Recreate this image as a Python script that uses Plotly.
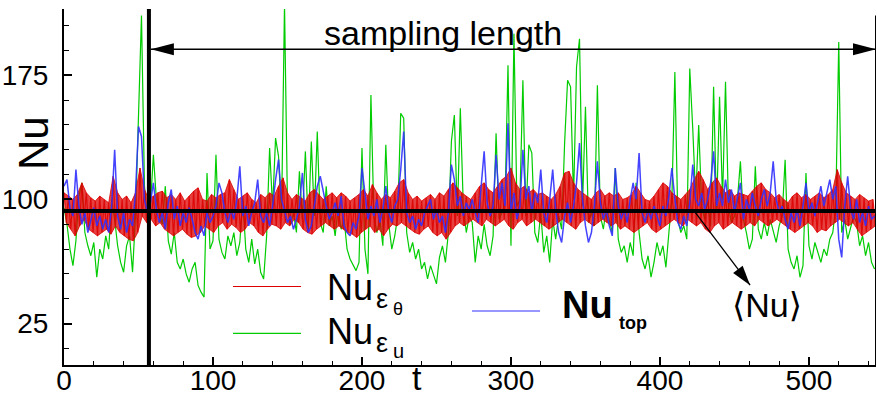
import plotly.graph_objects as go

# ---------------- data ----------------
T_STEP_GB = 2          # sampling step of the green / blue series (time units)
T_STEP_R = 3           # sampling step of the red envelope values

nu_eps_u = [  # green, Nu_eps_u
    95, 85, 70, 60, 75, 102, 110, 80, 72, 66,
    74, 53, 70, 64, 78, 70, 100, 88, 72, 62,
    56, 72, 78, 56, 90, 151, 211, 108, 88, 96,
    127, 100, 92, 85, 108, 75, 67, 80, 62, 58,
    64, 55, 50, 58, 62, 48, 44, 41, 116, 70,
    75, 127, 76, 68, 64, 78, 72, 80, 66, 74,
    100, 70, 62, 76, 61, 70, 56, 52, 78, 131,
    95, 137, 126, 90, 218, 95, 85, 92, 80, 117,
    88, 129, 82, 135, 90, 141, 86, 80, 108, 84,
    90, 78, 95, 82, 88, 70, 64, 60, 57, 62,
    131, 70, 55, 163, 90, 80, 88, 72, 133, 85,
    70, 78, 90, 152, 149, 80, 68, 74, 64, 70,
    58, 62, 52, 60, 55, 49, 65, 72, 62, 80,
    135, 151, 90, 155, 96, 80, 90, 86, 62, 78,
    70, 85, 72, 66, 78, 140, 88, 92, 98, 181,
    72, 200, 96, 100, 172, 90, 133, 128, 80, 74,
    92, 68, 78, 62, 88, 76, 90, 82, 134, 172,
    168, 100, 180, 197, 96, 156, 86, 92, 84, 169,
    90, 82, 95, 88, 80, 119, 76, 68, 72, 62,
    74, 66, 110, 80, 64, 58, 66, 53, 62, 74,
    66, 72, 59, 80, 100, 177, 88, 80, 84, 76,
    179, 143, 100, 145, 96, 88, 100, 84, 168, 92,
    162, 100, 171, 95, 86, 90, 100, 123, 88, 80,
    70, 76, 120, 82, 76, 86, 78, 88, 80, 74,
    84, 90, 124, 70, 62, 58, 66, 53, 60, 116,
    72, 64, 74, 68, 62, 70, 66, 76, 80, 96,
    195, 80, 88, 76, 84, 90, 86, 72, 78, 66,
    74, 62, 58,
]

nu_top = [  # blue, Nu_top
    108, 112, 95, 90, 118, 96, 85, 92, 80, 88,
    95, 84, 90, 82, 88, 80, 96, 130, 90, 82,
    92, 80, 88, 84, 104, 144, 138, 100, 92, 98,
    110, 94, 86, 92, 82, 98, 106, 88, 96, 84,
    92, 86, 95, 88, 80, 76, 84, 78, 92, 86,
    90, 96, 110, 104, 92, 86, 94, 88, 100, 120,
    90, 96, 84, 92, 98, 112, 90, 86, 92, 84,
    96, 112, 124, 100, 92, 86, 90, 82, 88, 96,
    116, 88, 80, 84, 96, 108, 114, 104, 96, 88,
    92, 98, 90, 102, 84, 80, 78, 86, 82, 90,
    119, 104, 88, 96, 90, 100, 86, 94, 108, 92,
    86, 96, 100, 118, 141, 92, 86, 90, 82, 88,
    84, 92, 96, 100, 88, 94, 86, 90, 80, 92,
    121, 112, 96, 102, 90, 98, 94, 100, 92, 86,
    108, 129, 98, 90, 96, 127, 100, 110, 96, 146,
    92, 104, 88, 96, 130, 100, 108, 92, 104, 98,
    118, 92, 86, 100, 118, 94, 80, 74, 90, 98,
    86, 96, 110, 134, 100, 84, 74, 80, 96, 123,
    98, 88, 94, 84, 78, 119, 96, 88, 94, 86,
    100, 110, 100, 128, 92, 86, 94, 88, 96, 90,
    84, 96, 90, 102, 119, 100, 86, 82, 90, 84,
    98, 121, 100, 96, 104, 94, 100, 110, 129, 96,
    104, 96, 112, 98, 106, 92, 100, 110, 88, 100,
    94, 104, 96, 90, 100, 106, 96, 104, 123, 100,
    92, 96, 88, 82, 92, 86, 94, 84, 96, 110,
    92, 98, 90, 100, 108, 96, 104, 112, 100, 108,
    76, 65, 96, 114, 94, 88, 100, 86, 92, 84,
    96, 88, 90,
]

nu_eps_theta_hi = [  # red, upper swing of the dense oscillation
    104, 102, 100, 103, 110, 104, 101, 99, 102, 100,
    98, 114, 104, 100, 102, 98, 104, 119, 106, 100,
    102, 104, 105, 101, 103, 100, 104, 99, 102, 105,
    107,
    100, 99, 103, 101, 103, 104, 112, 106, 100, 102,
    104, 100, 98, 103, 101, 104, 102, 108, 113, 104,
    100, 103, 101, 99, 104, 106, 103, 100, 102, 104,
    101, 104, 102, 99, 101, 103, 106, 102, 109, 104,
    100, 103, 101, 105, 110, 112, 104, 100, 102, 99,
    101, 103, 100, 104, 102, 106, 110, 107, 104, 102,
    100,
    104, 108, 110, 106, 104, 108, 112, 114, 119, 110,
    106, 108, 104, 106, 103, 104, 102, 100, 103, 108,
    116, 117, 110, 106, 104, 102, 100, 104, 106, 102,
    104, 102, 104, 100, 101, 103, 108, 104, 100, 99,
    102, 106, 110, 108, 104, 102, 100, 103, 106, 112,
    117, 112, 106, 110, 113, 108, 104, 106, 102, 104,
    103,
    102, 105, 108, 110, 106, 104, 101, 103, 100, 98,
    102, 104, 101, 103, 100, 102, 104, 101, 103, 106,
    118, 110, 104, 102, 100, 103, 101, 99, 100,
]

nu_eps_theta_lo = [  # red, lower swing of the dense oscillation
    86, 82, 78, 84, 88, 82, 80, 78, 80, 82,
    79, 84, 80, 78, 76, 75, 80, 90, 86, 88,
    84, 86, 82, 80, 78, 80, 82, 79, 77, 78,
    80,
    84, 82, 80, 84, 86, 82, 85, 83, 80, 82,
    86, 84, 80, 78, 82, 85, 84, 82, 86, 84,
    88, 86, 82, 80, 79, 82, 84, 86, 84, 82,
    84, 82, 80, 79, 77, 80, 82, 84, 80, 82,
    78, 82, 85, 84, 86, 84, 82, 80, 79, 82,
    84, 80, 78, 80, 76, 80, 84, 86, 84, 86,
    88,
    86, 84, 88, 86, 84, 86, 88, 84, 82, 86,
    88, 84, 86, 88, 86, 84, 82, 84, 86, 88,
    86, 84, 82, 86, 88, 86, 84, 86, 88, 86,
    84, 86, 82, 84, 82, 80, 82, 84, 86, 82,
    80, 82, 84, 86, 88, 86, 84, 88, 86, 84,
    86, 82, 80, 84, 86, 82, 84, 86, 84, 82,
    84,
    86, 84, 88, 86, 84, 86, 88, 86, 84, 82,
    80, 82, 84, 86, 84, 80, 82, 81, 84, 86,
    88, 86, 84, 86, 82, 78, 80, 82, 84,
]

NU_MEAN = 93            # <Nu> level (horizontal line)
T_SAMPLE_START = 57     # start of sampling length (vertical line)
T_MAX = 545
NU_RANGE = [0, 215]
ARROW_LEVEL = 190.7     # Nu level of the "sampling length" arrow
NU_ARROW_TAIL = (423.8, 92)
NU_ARROW_TIP = (460.5, 48.2)

x_tickvals = [0, 100, 200, 300, 400, 500]
y_tickvals = [25, 100, 175]

# ---------------- build traces ----------------
t_g = [i * T_STEP_GB for i in range(len(nu_eps_u))]
t_b = [i * T_STEP_GB for i in range(len(nu_top))]
t_hi = [i * T_STEP_R for i in range(len(nu_eps_theta_hi))]
t_lo = [i * T_STEP_R + T_STEP_R / 2 for i in range(len(nu_eps_theta_lo))]
x_r, y_r = [], []
for a, h, b, l in zip(t_hi, nu_eps_theta_hi, t_lo, nu_eps_theta_lo):
    x_r += [a, b]
    y_r += [h, l]

RED = "#dd0000"
GREEN = "#00cc00"
BLUE = "#3030ff"
FONT = "Liberation Sans, Arial, DejaVu Sans, sans-serif"

fig = go.Figure()
fig.add_trace(go.Scatter(x=t_g, y=nu_eps_u, mode="lines",
                         line=dict(color=GREEN, width=1.2), showlegend=False))
# red: dense oscillation -> band between its swings plus the zig-zag itself
fig.add_trace(go.Scatter(x=t_hi, y=nu_eps_theta_hi, mode="lines",
                         line=dict(color=RED, width=0.8), opacity=0.85, showlegend=False))
fig.add_trace(go.Scatter(x=t_lo, y=nu_eps_theta_lo, mode="lines", fill="tonexty",
                         fillcolor="rgba(221,0,0,0.75)",
                         line=dict(color=RED, width=0.8), opacity=0.85, showlegend=False))
fig.add_trace(go.Scatter(x=x_r, y=y_r, mode="lines", opacity=0.85,
                         line=dict(color=RED, width=1.2), showlegend=False))
fig.add_trace(go.Scatter(x=t_b, y=nu_top, mode="lines", opacity=0.9,
                         line=dict(color=BLUE, width=1.5), showlegend=False))

# ---------------- layout ----------------
L, R, T, B = 64, 876, 9, 365


def PX(x):
    return (x - L) / (R - L)


def PY(y):
    return (B - y) / (B - T)


shapes = [
    dict(type="line", xref="x", yref="y", x0=0, x1=T_MAX, y0=NU_MEAN, y1=NU_MEAN,
         line=dict(color="black", width=4)),
    dict(type="line", xref="x", yref="y", x0=T_SAMPLE_START, x1=T_SAMPLE_START,
         y0=NU_RANGE[0], y1=NU_RANGE[1], line=dict(color="black", width=4)),
    dict(type="line", xref="x", yref="y", x0=T_MAX, x1=T_MAX, y0=NU_RANGE[0], y1=211,
         line=dict(color="black", width=2)),
    dict(type="line", xref="x", yref="y", x0=T_SAMPLE_START + 1.3, x1=T_MAX,
         y0=ARROW_LEVEL, y1=ARROW_LEVEL, line=dict(color="black", width=1.5)),
    dict(type="path", xref="x", yref="y", xsizemode="pixel", ysizemode="pixel",
         xanchor=T_SAMPLE_START + 1.3, yanchor=ARROW_LEVEL,
         path="M0,0 L23,6 L23,-6 Z", fillcolor="black", line=dict(width=0)),
    dict(type="path", xref="x", yref="y", xsizemode="pixel", ysizemode="pixel",
         xanchor=T_MAX, yanchor=ARROW_LEVEL,
         path="M0,0 L-23,6 L-23,-6 Z", fillcolor="black", line=dict(width=0)),
    dict(type="line", xref="x", yref="y", x0=NU_ARROW_TAIL[0], x1=NU_ARROW_TIP[0],
         y0=NU_ARROW_TAIL[1], y1=NU_ARROW_TIP[1], line=dict(color="black", width=1.3)),
    dict(type="path", xref="x", yref="y", xsizemode="pixel", ysizemode="pixel",
         xanchor=NU_ARROW_TIP[0], yanchor=NU_ARROW_TIP[1],
         path="M0,0 L-7.45,19.5 L-16.95,12.1 Z", fillcolor="black", line=dict(width=0)),
    dict(type="line", xref="paper", yref="paper", x0=PX(233), x1=PX(301),
         y0=PY(286.5), y1=PY(286.5), line=dict(color=RED, width=1.2)),
    dict(type="line", xref="paper", yref="paper", x0=PX(233), x1=PX(301),
         y0=PY(333.3), y1=PY(333.3), line=dict(color=GREEN, width=1.2)),
    dict(type="line", xref="paper", yref="paper", x0=PX(472), x1=PX(540),
         y0=PY(311), y1=PY(311), line=dict(color=BLUE, width=1.2)),
]


def ann(text, x, y, size, xanchor="left", yanchor="middle", angle=0):
    return dict(text=text, xref="paper", yref="paper", x=PX(x), y=PY(y),
                xanchor=xanchor, yanchor=yanchor, showarrow=False, textangle=angle,
                font=dict(family=FONT, size=size, color="black"))


annotations = [
    ann("sampling length", 443, 33, 34, xanchor="center"),
    ann("Nu", 33, 143, 42, xanchor="center", angle=-90),
    ann("t", 417, 378, 34, xanchor="center"),
    ann("Nu", 325, 287, 36),
    ann("ε", 374, 299, 27),
    ann("θ", 391, 309, 18),
    ann("Nu", 325, 331, 36),
    ann("ε", 374, 343, 27),
    ann("u", 391, 351, 20),
    ann("<b>Nu</b>", 560, 305, 38),
    ann("<b>top</b>", 617, 323, 18),
    ann("⟨Nu⟩", 767, 305, 34, xanchor="center"),
]

fig.update_layout(
    width=877, height=401,
    margin=dict(l=L, r=877 - R, t=T, b=401 - B, pad=0, autoexpand=False),
    paper_bgcolor="white", plot_bgcolor="white",
    showlegend=False,
    font=dict(family=FONT, color="black"),
    shapes=shapes, annotations=annotations,
    xaxis=dict(range=[0, T_MAX], showline=True, linecolor="black", linewidth=2,
               automargin=False,
               ticks="inside", ticklen=8, tickwidth=1.5, tickcolor="black",
               tickvals=x_tickvals, tickfont=dict(size=28, family=FONT),
               minor=dict(ticks="inside", ticklen=4, tickwidth=1, tickcolor="black",
                          tickmode="linear", tick0=0, dtick=20),
               showgrid=False, zeroline=False, ticklabelstandoff=-11),
    yaxis=dict(range=NU_RANGE, showline=True, linecolor="black", linewidth=2,
               automargin=False,
               ticks="inside", ticklen=8, tickwidth=1.5, tickcolor="black",
               tickvals=y_tickvals, tickfont=dict(size=28, family=FONT),
               minor=dict(ticks="inside", ticklen=5, tickwidth=1, tickcolor="black",
                          tickmode="linear", tick0=10, dtick=15),
               showgrid=False, zeroline=False, ticklabelstandoff=8),
)

fig.write_html("out.html")
